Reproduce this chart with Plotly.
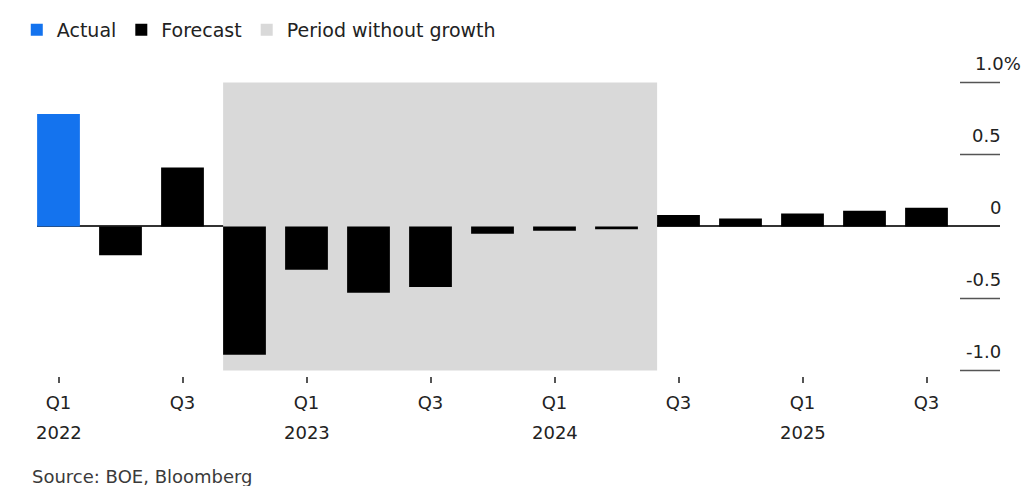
import plotly.graph_objects as go

# ---- data ----
quarters = ["Q1 2022", "Q2 2022", "Q3 2022", "Q4 2022",
            "Q1 2023", "Q2 2023", "Q3 2023", "Q4 2023",
            "Q1 2024", "Q2 2024", "Q3 2024", "Q4 2024",
            "Q1 2025", "Q2 2025", "Q3 2025"]
actual_quarters = ["Q1 2022"]
actual_values = [0.78]
forecast_quarters = quarters[1:]
forecast_values = [-0.20, 0.41, -0.89, -0.30, -0.46, -0.42, -0.05,
                   -0.03, -0.02, 0.08, 0.055, 0.09, 0.11, 0.13]
period_start = "Q4 2022"
period_end = "Q2 2024"
period_low, period_high = -1.0, 1.0
tick_quarters = ["Q1 2022", "Q3 2022", "Q1 2023", "Q3 2023",
                 "Q1 2024", "Q3 2024", "Q1 2025", "Q3 2025"]
year_quarters = ["Q1 2022", "Q1 2023", "Q1 2024", "Q1 2025"]
y_ticks = [1.0, 0.5, 0.0, -0.5, -1.0]
y_tick_labels = ["1.0%", "0.5", "0", "-0.5", "-1.0"]
source_text = "Source: BOE, Bloomberg"

# ---- style ----
BLUE = "#1473ee"
BLACK = "#000000"
GRAY = "#d9d9d9"
TEXT = "#222222"
FONT = "DejaVu Sans, Liberation Sans, Arial, sans-serif"
BAR_W = 0.69

idx = {q: i for i, q in enumerate(quarters)}
W, H = 1024, 486
L, R, T, B = 37, 24, 60, 110
plot_w = W - L - R
plot_h = H - T - B

# pixel mapping used for axis ranges
x_px0, x_step = 58.5, 62.0
y_zero_px, y_unit = 226.0, 144.5
x_range = [(L - x_px0) / x_step, (W - R - x_px0) / x_step]
y_range = [(y_zero_px - (H - B)) / y_unit, (y_zero_px - T) / y_unit]

fig = go.Figure()

# period without growth (shaded region as a bar)
x0 = idx[period_start] - BAR_W / 2
x1 = idx[period_end] + 1 - BAR_W / 2
fig.add_trace(go.Bar(
    x=[(x0 + x1) / 2], y=[period_high - period_low], base=[period_low],
    width=[x1 - x0], marker=dict(color=GRAY, line=dict(width=0)),
    name="Period without growth", legendrank=3, hoverinfo="skip"))

fig.add_trace(go.Bar(
    x=[idx[q] for q in actual_quarters], y=actual_values, width=BAR_W,
    marker=dict(color=BLUE, line=dict(width=0)), name="Actual", legendrank=1))

fig.add_trace(go.Bar(
    x=[idx[q] for q in forecast_quarters], y=forecast_values, width=BAR_W,
    marker=dict(color=BLACK, line=dict(width=0)), name="Forecast", legendrank=2))

fig.update_layout(
    width=W, height=H,
    margin=dict(l=L, r=R, t=T, b=B),
    barmode="overlay",
    plot_bgcolor="white", paper_bgcolor="white",
    font=dict(family=FONT, color=TEXT, size=18),
    showlegend=True,
    legend=dict(orientation="h", x=-0.021, xanchor="left", y=1.095, yanchor="middle",
                font=dict(size=19, color=TEXT), traceorder="normal",
                bgcolor="rgba(0,0,0,0)"),
    xaxis=dict(range=x_range, tickmode="array",
               tickvals=[idx[q] for q in tick_quarters],
               ticktext=[q.split()[0] for q in tick_quarters],
               ticks="outside", ticklen=6, tickwidth=1.5, tickcolor="#555555",
               ticklabelstandoff=4,
               showgrid=False, zeroline=False, showline=False,
               tickfont=dict(size=18, color=TEXT)),
    yaxis=dict(range=y_range, showticklabels=False, showgrid=False,
               zeroline=True, zerolinecolor="#333333", zerolinewidth=1.5),
)

# short gridlines at right for non-zero ticks
gx0 = (960 - L) / plot_w
for v in y_ticks:
    if v != 0:
        fig.add_shape(type="line", xref="x domain", yref="y", x0=gx0, x1=1.0,
                      y0=v, y1=v, line=dict(color="#555555", width=1.5), layer="above")

# right-hand labels above gridlines
for v, lab in zip(y_ticks, y_tick_labels):
    xr = (1023 - L) / plot_w if lab.endswith("%") else (1003 - L) / plot_w
    fig.add_annotation(x=xr, xref="paper", y=v, yref="y", text=lab, showarrow=False,
                       xanchor="right", yanchor="middle", yshift=19,
                       font=dict(size=18, color=TEXT))

# year labels under Q1 ticks
for q in year_quarters:
    fig.add_annotation(x=idx[q], xref="x", y=(H - B - 433) / plot_h, yref="paper",
                       text=q.split()[1], showarrow=False, xanchor="center",
                       yanchor="middle", font=dict(size=18, color=TEXT))

fig.add_annotation(x=(30 - L) / plot_w, xref="paper", y=(H - B - 477) / plot_h,
                   yref="paper", text=source_text, showarrow=False,
                   xanchor="left", yanchor="middle",
                   font=dict(size=18, color="#3a3a3a"))

fig.write_html("out.html")
